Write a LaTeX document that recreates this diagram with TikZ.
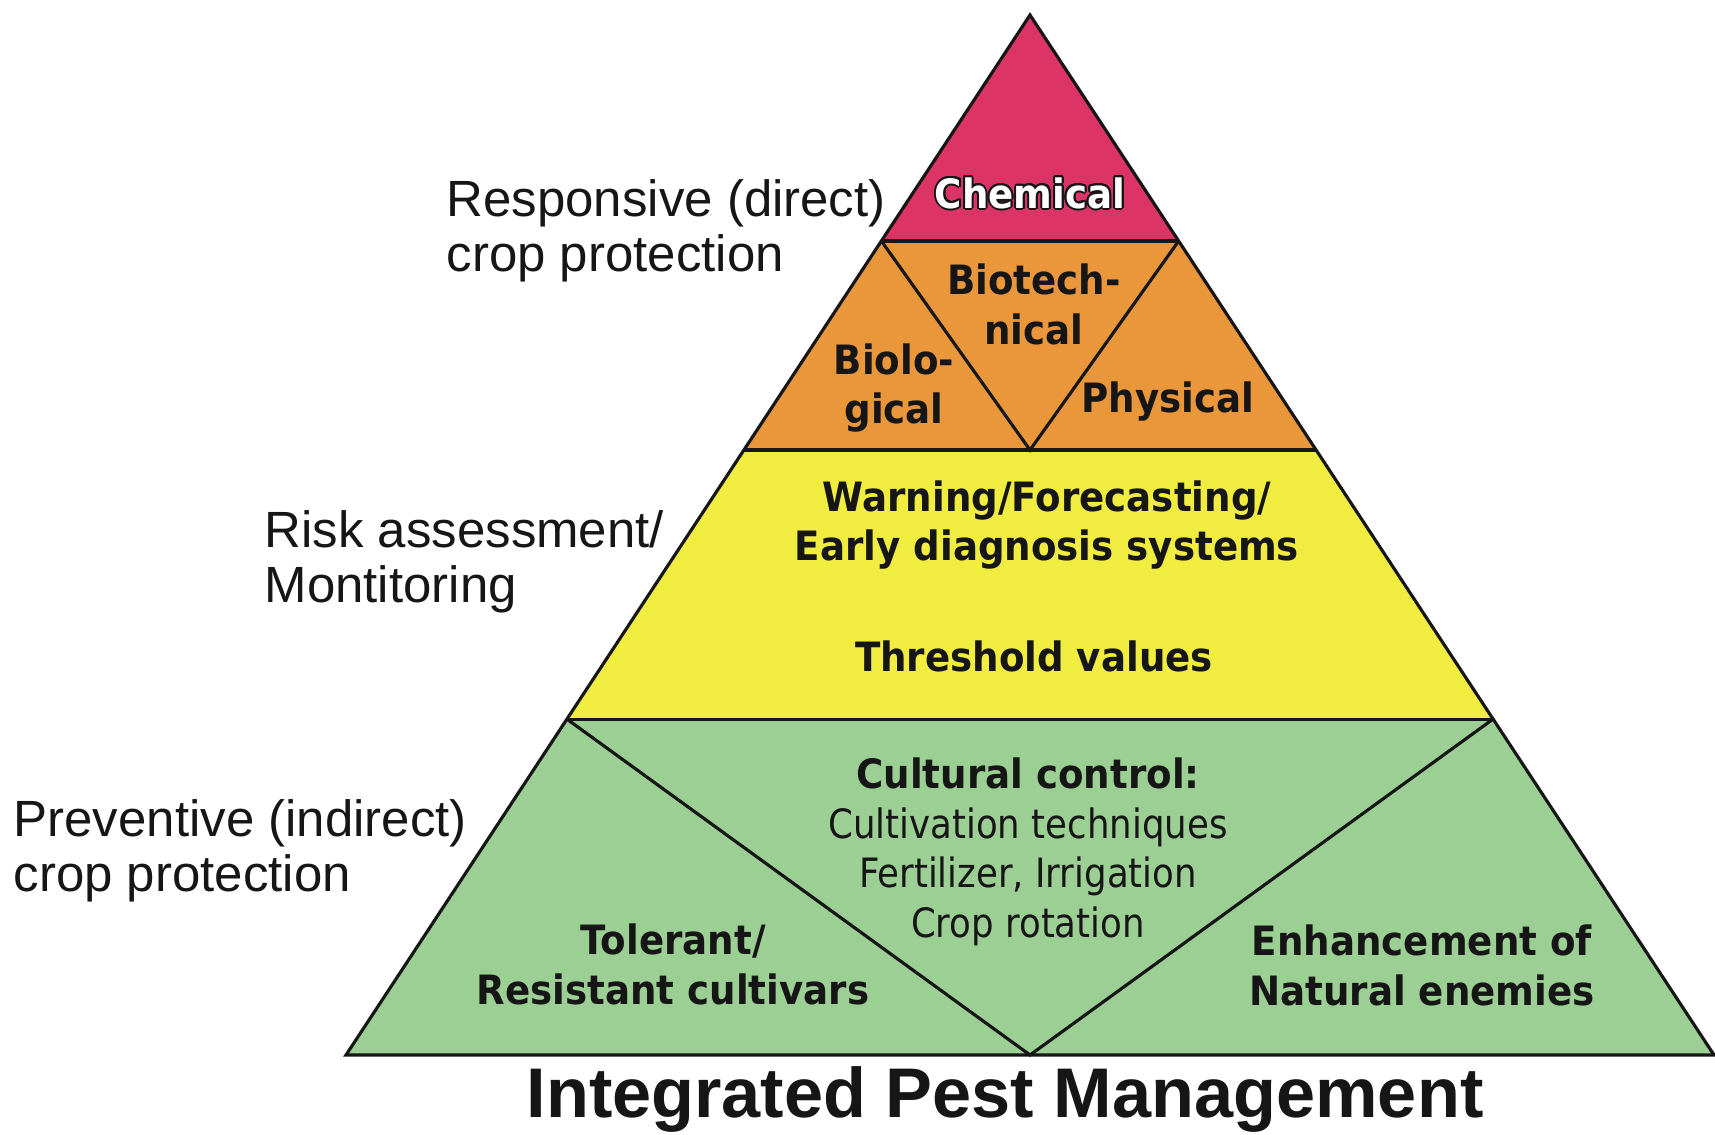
\documentclass[tikz,border=0pt]{standalone}
\usepackage{fontspec}
\usepackage{xcolor}
\usepackage{contour}
\usepackage{tikz}
\usetikzlibrary{calc}
\newfontfamily\boxfont[FakeStretch=0.92]{DejaVu Sans}
\newfontfamily\plainboxfont[FakeStretch=0.88]{DejaVu Sans}
\newfontfamily\sidefont{Liberation Sans}
\definecolor{chemred}{RGB}{221,52,103}
\definecolor{bioorange}{RGB}{234,150,58}
\definecolor{riskyellow}{RGB}{240,236,64}
\definecolor{prevgreen}{RGB}{156,207,147}
\definecolor{ink}{RGB}{22,22,22}
\contourlength{0.55pt}
\tikzset{
  part/.style={draw=ink, line width=0.9pt},
  boxtext/.style={font=\boxfont\bfseries\fontsize{11.5}{14.2}\selectfont, text=ink, align=center, inner sep=0pt},
  plaintext/.style={font=\plainboxfont\fontsize{11.5}{14.1}\selectfont, text=ink, align=center, inner sep=0pt},
  sidetext/.style={font=\sidefont\fontsize{14.5}{15.8}\selectfont, text=ink, align=left, anchor=west, inner sep=0pt},
}

\begin{document}
\begin{tikzpicture}
\useasboundingbox (0,0) rectangle (17.15,11.34);
\coordinate (top) at (10.30, 11.19);
\coordinate (bl) at (3.46, 0.79);
\coordinate (br) at (17.14, 0.79);
\coordinate (c1) at ($(top)!0.2173!(bl)$);
\coordinate (c2) at ($(top)!0.2173!(br)$);
\coordinate (o1) at ($(top)!0.4183!(bl)$);
\coordinate (o2) at ($(top)!0.4183!(br)$);
\coordinate (y1) at ($(top)!0.677!(bl)$);
\coordinate (y2) at ($(top)!0.677!(br)$);
\coordinate (om) at ($(o1)!0.5!(o2)$);
\coordinate (gm) at ($(bl)!0.5!(br)$);
\fill[chemred] (top) -- (c1) -- (c2) -- cycle;
\fill[bioorange] (c1) -- (o1) -- (o2) -- (c2) -- cycle;
\fill[riskyellow] (o1) -- (y1) -- (y2) -- (o2) -- cycle;
\fill[prevgreen] (y1) -- (bl) -- (br) -- (y2) -- cycle;
\draw[part] (top) -- (bl) -- (br) -- cycle;
\draw[part] (c1) -- (c2) (o1) -- (o2) (y1) -- (y2);
\draw[part] (c1) -- (om) -- (c2);
\draw[part] (y1) -- (gm) -- (y2);
\node[boxtext] at (10.30, 9.40) (chem) {\contour{ink}{\textcolor{white}{Chemical}}};
\node[boxtext] at (10.34, 8.30) (biotech) {Biotech-\\nical};
\node[boxtext] at (8.94, 7.46) (bio) {Biolo-\\gical};
\node[boxtext] at (11.68, 7.32) (phys) {Physical};
\node[boxtext] at (10.47, 6.09) (warn) {Warning/Forecasting/\\Early diagnosis systems};
\node[boxtext] at (10.34, 4.78) (thresh) {Threshold values};
\node[plaintext] at (10.28, 2.82) (cult) {{\boxfont\bfseries Cultural control:}\\Cultivation techniques\\Fertilizer, Irrigation\\Crop rotation};
\node[boxtext] at (6.73, 1.70) (toler) {Tolerant/\\Resistant cultivars};
\node[boxtext] at (14.22, 1.69) (enemy) {Enhancement of\\Natural enemies};
\node[sidetext] at (4.46, 9.03) (resp) {Responsive (direct)\\crop protection};
\node[sidetext] at (2.64, 5.72) (risk) {Risk assessment/\\Montitoring};
\node[sidetext] at (0.13, 2.83) (prev) {Preventive (indirect)\\crop protection};
\node[font=\sidefont\bfseries\fontsize{20}{24}\selectfont, text=ink, anchor=base, inner sep=0pt] at (10.05, 0.17) (title) {Integrated Pest Management};
\end{tikzpicture}
\end{document}
